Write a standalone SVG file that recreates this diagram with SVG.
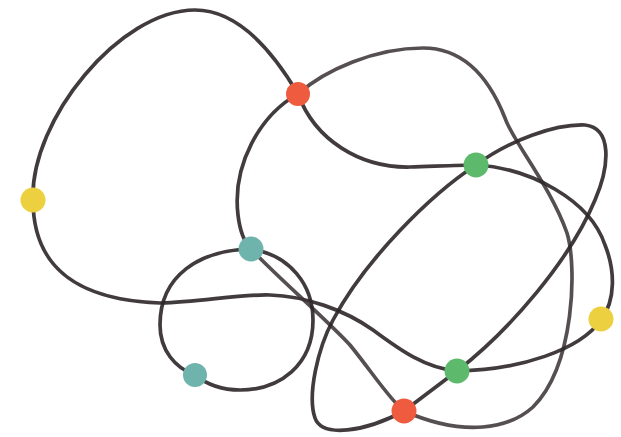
<svg xmlns="http://www.w3.org/2000/svg" width="621" height="437" viewBox="0 0 621 437">
<style>
.e{fill:none;stroke:#2e2628;stroke-opacity:0.9;stroke-width:3.7;stroke-linecap:round;stroke-linejoin:round}
.l{stroke:#3a3234;stroke-opacity:0.86}
.y{fill:#ecd03f}.r{fill:#ee5b3e}.g{fill:#5dba6c}.t{fill:#6fb4ac}
</style>
<rect width="621" height="437" fill="#ffffff"/>
<g id="connectors">
<path class="e" d="M33,200 C30,120 120,10 195,10 C240,10 275,55 298,94"/>
<path class="e" d="M33,200 C33,270 80,300 160,303 C200,302 240,294 270,295 C305,296 345,310 373,330 C400,350 425,368 457,371"/>
<path class="e" d="M298,94 C315,140 360,168 410,167 C440,166 460,165 476,165"/>
<path class="e l" d="M298,94 C325,70 375,48 423,48 C465,48 490,80 505,118 C512,140 550,185 567,233 C577,265 575,365 533,407 C510,428 465,438 404,411"/>
<path class="e" d="M298,94 C260,115 232,165 238,215 C240,232 245,243 251,249"/>
<path class="e l" d="M251,249 C275,275 325,318 350,345 C372,372 390,400 404,411"/>
<path class="e" d="M251,249 C200,250 160,275 160,325 C160,350 175,368 195,375"/>
<path class="e" d="M251,249 C290,255 313,285 313,320 C313,365 280,390 240,390 C220,390 205,383 195,375"/>
<path class="e" d="M476,165 C430,195 365,260 333,320 C318,348 307,395 315,418 C322,438 365,432 404,411"/>
<path class="e" d="M404,411 L457,371"/>
<path class="e" d="M457,371 C510,330 570,260 595,200 C610,165 612,128 585,125 C555,124 510,140 476,165"/>
<path class="e" d="M476,165 C530,168 590,200 605,245 C615,270 616,300 601,320"/>
<path class="e" d="M601,320 C580,350 520,370 457,371"/>
</g>
<g id="n-yellow1"><circle class="y" cx="33" cy="200" r="12.5"/></g>
<g id="n-red1"><circle class="r" cx="298" cy="94" r="12"/></g>
<g id="n-green1"><circle class="g" cx="476" cy="165" r="12.5"/></g>
<g id="n-teal1"><circle class="t" cx="251" cy="249" r="12.5"/></g>
<g id="n-teal2"><circle class="t" cx="195" cy="375" r="12"/></g>
<g id="n-green2"><circle class="g" cx="457" cy="371" r="12.5"/></g>
<g id="n-red2"><circle class="r" cx="404" cy="411" r="12.5"/></g>
<g id="n-yellow2"><circle class="y" cx="601" cy="319" r="12.5"/></g>
</svg>
